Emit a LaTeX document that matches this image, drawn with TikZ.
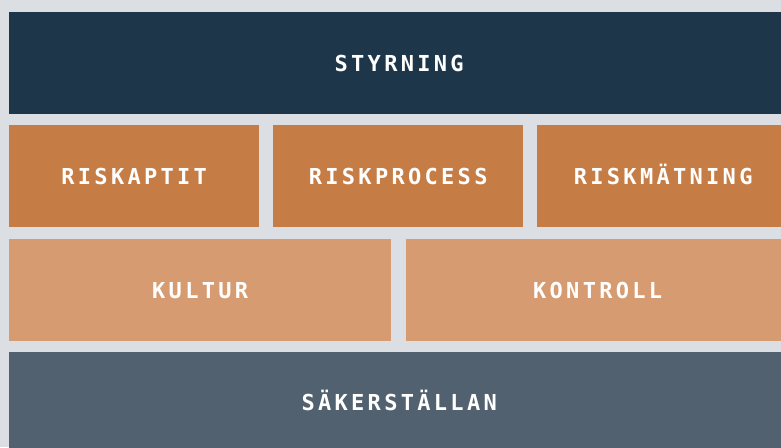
\documentclass[tikz,border=0pt]{standalone}
\usepackage{fontspec}
\newfontfamily\lblfont[LetterSpace=15]{DejaVu Sans Mono Bold}
\definecolor{bgc}{HTML}{DBDEE3}
\definecolor{navy}{HTML}{1D3649}
\definecolor{orng}{HTML}{C67C45}
\definecolor{lorng}{HTML}{D69B70}
\definecolor{slate}{HTML}{52616F}
\tikzset{
  blk/.style={draw=none, inner sep=0pt, anchor=north west, text=white,
    text height=16pt, text depth=0pt,
    font=\lblfont\fontsize{22pt}{23pt}\selectfont},
}
\begin{document}
\begin{tikzpicture}[x=1pt,y=-1pt]
\fill[bgc] (0,0) rectangle (781,447);
\useasboundingbox (0,0) rectangle (781,447);
\clip (0,0) rectangle (781,447);
\node[blk, fill=navy, minimum width=780pt, minimum height=102pt] (styr) at (9,12) {STYRNING};
\node[blk, fill=orng, minimum width=250pt, minimum height=102pt] (rapt) at (9,125) {RISKAPTIT};
\node[blk, fill=orng, minimum width=250pt, minimum height=102pt] (rproc) at (273,125) {RISKPROCESS};
\node[blk, fill=orng, minimum width=252pt, minimum height=102pt] (rmat) at (537,125) {RISKMÄTNING};
\node[blk, fill=lorng, minimum width=382pt, minimum height=102pt] (kult) at (9,239) {KULTUR};
\node[blk, fill=lorng, minimum width=383pt, minimum height=102pt] (kontr) at (406,239) {KONTROLL};
\node[blk, fill=slate, minimum width=780pt, minimum height=100pt] (sak) at (9,352) {SÄKERSTÄLLAN};
\end{tikzpicture}
\end{document}
